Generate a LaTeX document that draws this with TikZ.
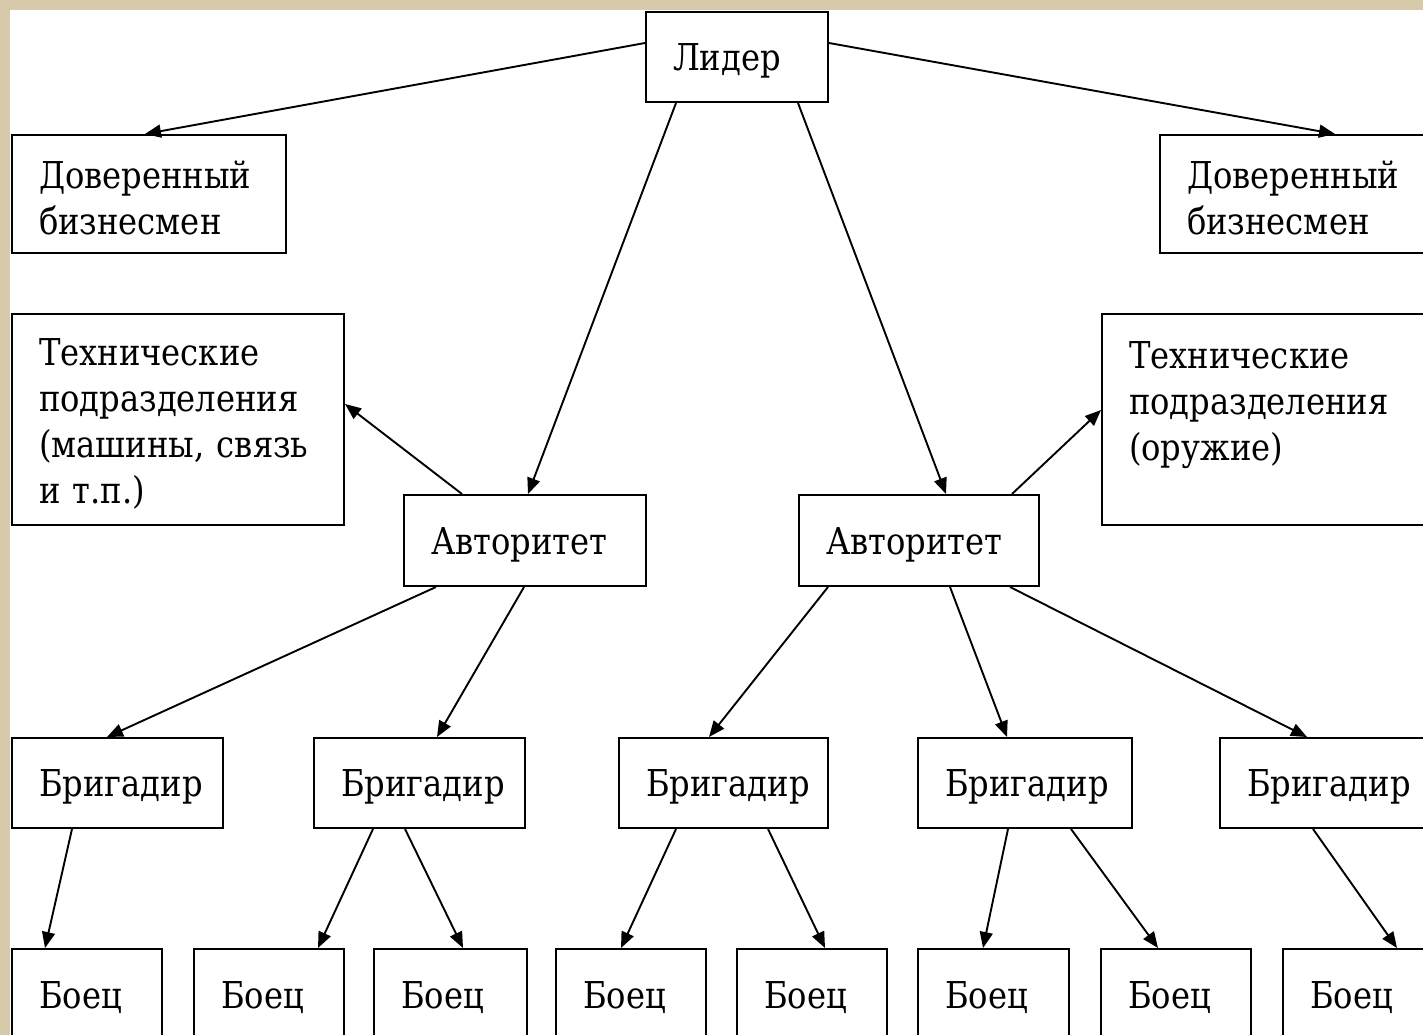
\documentclass[tikz,border=0pt]{standalone}
\usepackage{fontspec}
\usetikzlibrary{arrows.meta}
\newfontfamily\boxfont[FakeStretch=0.87]{DejaVu Serif}
\definecolor{parch}{RGB}{214,202,170}
\begin{document}
\begin{tikzpicture}[x=1pt,y=-1pt,
  box/.style n args={3}{draw, line width=2pt, fill=white, anchor=north west,
    align=left, inner xsep=27pt, inner ysep=0pt,
    text width=#1, minimum width=#2, minimum height=#3,
    execute at begin node={\rule{0pt}{35pt}},
    font=\boxfont\fontsize{37}{46}\selectfont},
  link/.style={line width=1.9pt, -{Triangle[length=16pt,width=13pt]}}]
\useasboundingbox (0,0) rectangle (1423,1035);
\clip (0,0) rectangle (1423,1035);
\fill[parch] (0,0) rectangle (1423,1035);
\fill[white] (10,10) rectangle (1430,1040);
% top
\node[box={128pt}{182pt}{90pt}] (lider) at (645,11) {Лидер};
\node[box={220pt}{274pt}{118pt}] (dbL) at (11,134) {Доверенный\\бизнесмен};
\node[box={220pt}{274pt}{118pt}] (dbR) at (1159,134) {Доверенный\\бизнесмен};
\node[box={278pt}{332pt}{211pt}] (techL) at (11,313) {Технические\\подразделения\\\mbox{(машины, связь}\\и т.п.)};
\node[box={278pt}{332pt}{211pt}] (techR) at (1101,313) {Технические\\подразделения\\(оружие)\\\mbox{}};
\node[box={188pt}{242pt}{91pt}] (avtL) at (403,494) {Авторитет};
\node[box={186pt}{240pt}{91pt}] (avtR) at (798,494) {Авторитет};
% brigadiers
\node[box={157pt}{211pt}{90pt}] (br1) at (11,737) {Бригадир};
\node[box={157pt}{211pt}{90pt}] (br2) at (313,737) {Бригадир};
\node[box={155pt}{209pt}{90pt}] (br3) at (618,737) {Бригадир};
\node[box={160pt}{214pt}{90pt}] (br4) at (917,737) {Бригадир};
\node[box={160pt}{214pt}{90pt}] (br5) at (1219,737) {Бригадир};
% fighters
\node[box={96pt}{150pt}{90pt}] (b1) at (11,948) {Боец};
\node[box={96pt}{150pt}{90pt}] (b2) at (193,948) {Боец};
\node[box={99pt}{153pt}{90pt}] (b3) at (373,948) {Боец};
\node[box={96pt}{150pt}{90pt}] (b4) at (555,948) {Боец};
\node[box={96pt}{150pt}{90pt}] (b5) at (736,948) {Боец};
\node[box={97pt}{151pt}{90pt}] (b6) at (917,948) {Боец};
\node[box={96pt}{150pt}{90pt}] (b7) at (1100,948) {Боец};
\node[box={96pt}{150pt}{90pt}] (b8) at (1282,948) {Боец};
% connectors
\draw[link] ([yshift=-32pt]lider.north west) -- ([xshift=134pt]dbL.north west);
\draw[link] ([yshift=-32pt]lider.north east) -- ([xshift=176pt]dbR.north west);
\draw[link] ([xshift=31pt]lider.south west) -- ([xshift=125pt]avtL.north west);
\draw[link] ([xshift=153pt]lider.south west) -- ([xshift=148pt]avtR.north west);
\draw[link] ([xshift=59pt]avtL.north west) -- ([yshift=-91pt]techL.north east);
\draw[link] ([xshift=214pt]avtR.north west) -- ([yshift=-97pt]techR.north west);
\draw[link] ([xshift=33pt]avtL.south west) -- ([xshift=96pt]br1.north west);
\draw[link] ([xshift=121pt]avtL.south west) -- ([xshift=124pt]br2.north west);
\draw[link] ([xshift=30pt]avtR.south west) -- ([xshift=91pt]br3.north west);
\draw[link] ([xshift=152pt]avtR.south west) -- ([xshift=90pt]br4.north west);
\draw[link] ([xshift=212pt]avtR.south west) -- ([xshift=88pt]br5.north west);
\draw[link] ([xshift=61pt]br1.south west) -- ([xshift=34pt]b1.north west);
\draw[link] ([xshift=60pt]br2.south west) -- ([xshift=125pt]b2.north west);
\draw[link] ([xshift=92pt]br2.south west) -- ([xshift=90pt]b3.north west);
\draw[link] ([xshift=58pt]br3.south west) -- ([xshift=66pt]b4.north west);
\draw[link] ([xshift=150pt]br3.south west) -- ([xshift=89pt]b5.north west);
\draw[link] ([xshift=91pt]br4.south west) -- ([xshift=66pt]b6.north west);
\draw[link] ([xshift=154pt]br4.south west) -- ([xshift=58pt]b7.north west);
\draw[link] ([xshift=94pt]br5.south west) -- ([xshift=115pt]b8.north west);
\end{tikzpicture}
\end{document}
